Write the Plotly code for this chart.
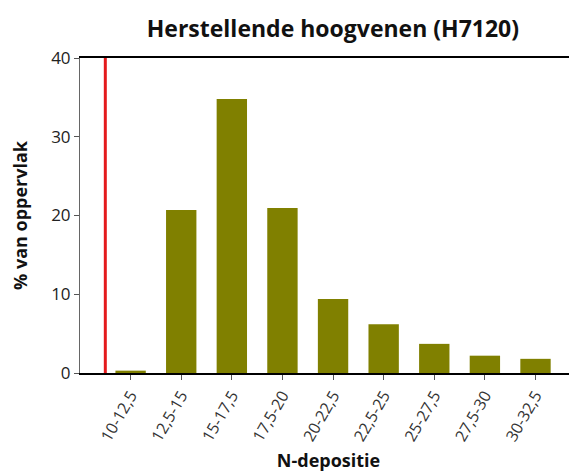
import plotly.graph_objects as go

categories = ["10-12,5", "12,5-15", "15-17,5", "17,5-20", "20-22,5",
              "22,5-25", "25-27,5", "27,5-30", "30-32,5"]
values = [0.3, 20.7, 34.8, 20.95, 9.4, 6.2, 3.7, 2.2, 1.8]
threshold_position = -0.5  # category boundary of the critical deposition value

fig = go.Figure()
fig.add_trace(go.Bar(x=list(range(len(categories))), y=values,
                     marker=dict(color="#808000", line=dict(width=0)),
                     width=0.6, showlegend=False))

fig.add_shape(type="line", xref="x", yref="y",
              x0=threshold_position, x1=threshold_position, y0=0, y1=40,
              line=dict(color="#e41a1c", width=3))

fig.update_layout(
    width=569, height=467,
    margin=dict(l=72, r=0, t=50, b=102, autoexpand=False),
    paper_bgcolor="white", plot_bgcolor="white",
    font=dict(family="Open Sans", color="#333333"),
    title=dict(text="<b>Herstellende hoogvenen (H7120)</b>",
               x=0.571, xanchor="center", y=0.955, yanchor="middle",
               font=dict(size=23, color="#111111")),
    bargap=0.4,
)
fig.update_xaxes(
    range=[-1, 8.82], automargin=False,
    tickmode="array", tickvals=list(range(len(categories))), ticktext=categories,
    tickangle=-60, tickfont=dict(size=16, color="#333333"),
    ticks="outside", ticklen=5, tickcolor="#555555",
    showline=True, linecolor="black", linewidth=2, mirror=True,
    showgrid=False, zeroline=False,
    title=dict(text="<b>N-depositie</b>", font=dict(size=18, color="#111111"), standoff=10),
)
fig.update_yaxes(
    range=[0, 40], tickvals=[0, 10, 20, 30, 40], automargin=False,
    tickfont=dict(size=17, color="#222222"),
    ticks="outside", ticklen=5, tickcolor="#555555",
    showline=True, linecolor="#666666", linewidth=1,
    showgrid=False, zeroline=False,
    title=dict(text="<b>% van oppervlak</b>", font=dict(size=18, color="#111111"), standoff=26),
)

fig.write_html("out.html")
